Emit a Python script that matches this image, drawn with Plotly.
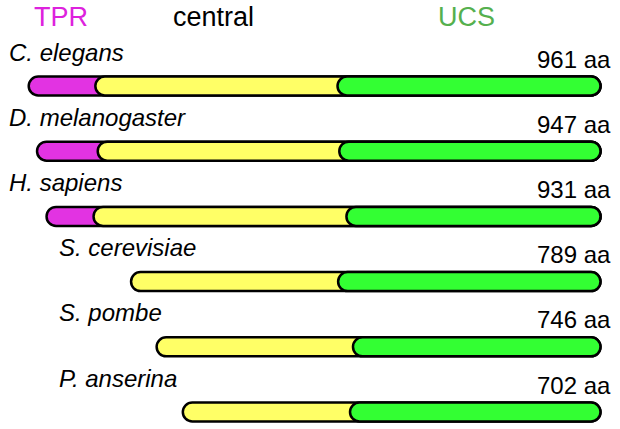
import plotly.graph_objects as go

species = ["C. elegans", "D. melanogaster", "H. sapiens",
           "S. cerevisiae", "S. pombe", "P. anserina"]
lengths = [961, 947, 931, 789, 746, 702]
tpr_end = [112, 102, 79, None, None, None]
ucs_start = [519, 508, 504, 348, 330, 281]
domain_names = ["TPR", "central", "UCS"]

W, H = 620, 429
PX_PER_AA = 0.595
PX_PER_ROW = 65.2
RIGHT_PX = 600.5
ROW0_PX = 86
HALF_PX = 9.5

x_range = [-RIGHT_PX / PX_PER_AA, (W - RIGHT_PX) / PX_PER_AA]
y_range = [(H - ROW0_PX) / PX_PER_ROW, -ROW0_PX / PX_PER_ROW]

h = HALF_PX / PX_PER_ROW
rx = HALF_PX / PX_PER_AA
K = 0.5523


def pill(x0, x1, yc):
    a, b = x0 + rx, x1 - rx
    pts = [
        f"M{a},{yc - h}",
        f"L{b},{yc - h}",
        f"C{b + K * rx},{yc - h} {x1},{yc - K * h} {x1},{yc}",
        f"C{x1},{yc + K * h} {b + K * rx},{yc + h} {b},{yc + h}",
        f"L{a},{yc + h}",
        f"C{a - K * rx},{yc + h} {x0},{yc + K * h} {x0},{yc}",
        f"C{x0},{yc - K * h} {a - K * rx},{yc - h} {a},{yc - h}",
        "Z",
    ]
    return " ".join(pts)


colors = {"TPR": "#e233e2", "central": "#ffff66", "UCS": "#33ff33"}
label_colors = {"TPR": "#dd22dd", "central": "#000000", "UCS": "#55b04e"}

fig = go.Figure()
fig.add_trace(go.Scatter(x=[x_range[0], x_range[1]], y=[0, 0], mode="markers",
                         marker=dict(opacity=0), hoverinfo="skip", showlegend=False))

shapes = []
annotations = []
FONT = "Liberation Sans, Arial, sans-serif"
for i, sp in enumerate(species):
    start = -lengths[i]
    segs = []
    if tpr_end[i] is not None:
        segs.append(("TPR", start))
        segs.append(("central", start + tpr_end[i]))
    else:
        segs.append(("central", start))
    segs.append(("UCS", start + ucs_start[i]))
    for name, s in segs:
        shapes.append(dict(type="path", xref="x", yref="y", path=pill(s, 0, i),
                           fillcolor=colors[name],
                           line=dict(color="black", width=2.5)))
    lx = 7 if tpr_end[i] is not None else 57
    annotations.append(dict(x=lx / W, xref="paper", y=i, yref="y",
                            text=f"<i>{sp}</i>", showarrow=False,
                            xanchor="left", yanchor="middle", yshift=34,
                            font=dict(family=FONT, size=24, color="black")))
    annotations.append(dict(x=613 / W, xref="paper", y=i, yref="y",
                            text=f"{lengths[i]} aa", showarrow=False,
                            xanchor="right", yanchor="middle", yshift=27,
                            font=dict(family=FONT, size=24, color="black")))

header_x = [61, 213, 466]
for name, hx in zip(domain_names, header_x):
    annotations.append(dict(x=hx / W, xref="paper", y=1 - 17 / H, yref="paper",
                            text=name, showarrow=False,
                            xanchor="center", yanchor="middle",
                            font=dict(family=FONT, size=27, color=label_colors[name])))

fig.update_layout(
    width=W, height=H,
    margin=dict(l=0, r=0, t=0, b=0),
    plot_bgcolor="white", paper_bgcolor="white",
    xaxis=dict(range=x_range, visible=False, fixedrange=True),
    yaxis=dict(range=y_range, visible=False, fixedrange=True),
    shapes=shapes, annotations=annotations, showlegend=False,
)

# page has an 8px default body margin; drop it so the figure fills the window
fig.write_html("out.html", config={"displayModeBar": False},
               post_script="document.body.style.margin='0';document.body.style.overflow='hidden';")
